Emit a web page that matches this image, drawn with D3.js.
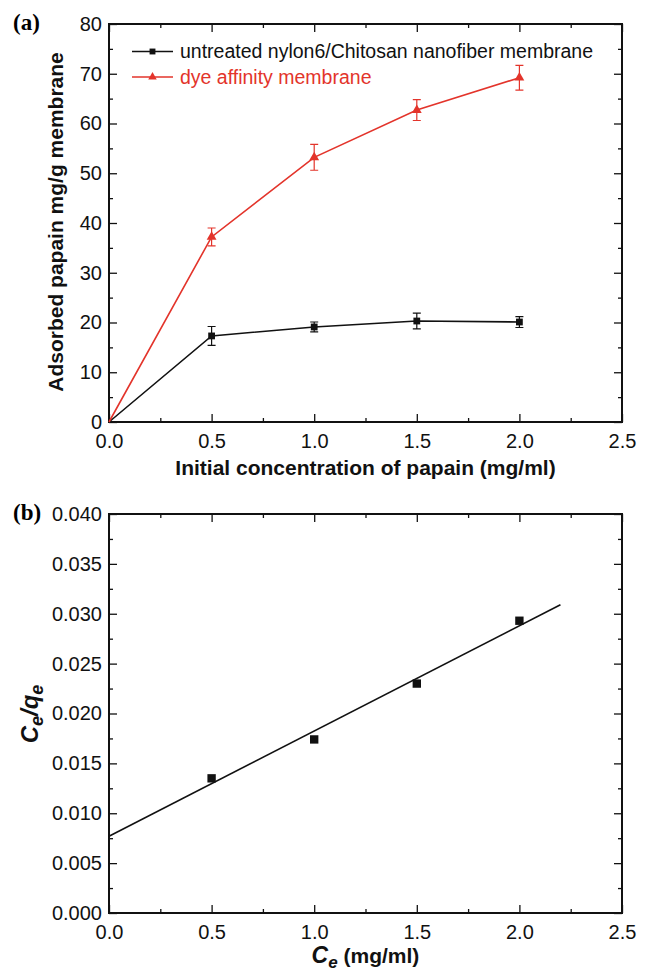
<!DOCTYPE html>
<html>
<head>
<meta charset="utf-8">
<script src="https://cdn.jsdelivr.net/npm/d3@7"></script>
<style>
  body { margin: 0; background: #fff; }
  svg { display: block; font-family: "Liberation Sans", Arial, Helvetica, sans-serif; }
</style>
</head>
<body>
<div id="chart"></div>
<script>
// panel (a) data
const conc = [0, 0.5, 1.0, 1.5, 2.0];
const untreated = [0, 17.3, 19.1, 20.3, 20.1];
const untreatedErr = [0, 1.9, 1.0, 1.6, 1.1];
const dyeAffinity = [0, 37.2, 53.2, 62.7, 69.2];
const dyeErr = [0, 1.8, 2.6, 2.1, 2.5];
const seriesNames = ["untreated nylon6/Chitosan nanofiber membrane", "dye affinity membrane"];

// panel (b) data
const ce = [0.5, 1.0, 1.5, 2.0];
const ceOverQe = [0.0135, 0.0174, 0.0230, 0.0293];
const fitX = [0, 2.2];
const fitY = [0.0077, 0.0309];

const xTicks = [0, 0.5, 1.0, 1.5, 2.0, 2.5];
const yTicksA = [0, 10, 20, 30, 40, 50, 60, 70, 80];
const yTicksB = [0, 0.005, 0.01, 0.015, 0.02, 0.025, 0.03, 0.035, 0.04];

const RED = "#e3342b";
const W = 651, H = 972;
const svg = d3.select("#chart").append("svg").attr("width", W).attr("height", H);

const left = 109, right = 622;

function frame(g, x, y, xMinor, yMinor, yFmt) {
  const [x0, x1] = x.range();
  const [y0, y1] = y.range();
  const major = 8, minor = 4;
  // bottom
  g.append("g").attr("transform", `translate(0,${y0})`)
    .call(d3.axisBottom(x).tickValues(xTicks).tickSizeInner(-major).tickSizeOuter(0).tickPadding(12).tickFormat(d3.format(".1f")))
    .call(a => a.selectAll("text").attr("font-size", 20).attr("fill", "#111"));
  g.append("g").attr("transform", `translate(0,${y0})`)
    .call(d3.axisBottom(x).tickValues(xMinor).tickSizeInner(-minor).tickSizeOuter(0).tickFormat(""));
  // top
  g.append("g").attr("transform", `translate(0,${y1})`)
    .call(d3.axisTop(x).tickValues(xTicks).tickSizeInner(-major).tickSizeOuter(0).tickFormat(""));
  g.append("g").attr("transform", `translate(0,${y1})`)
    .call(d3.axisTop(x).tickValues(xMinor).tickSizeInner(-minor).tickSizeOuter(0).tickFormat(""));
  // left
  g.append("g").attr("transform", `translate(${x0},0)`)
    .call(d3.axisLeft(y).tickValues(y.ticksMajor).tickSizeInner(-major).tickSizeOuter(0).tickPadding(7).tickFormat(yFmt))
    .call(a => a.selectAll("text").attr("font-size", 20).attr("fill", "#111"));
  g.append("g").attr("transform", `translate(${x0},0)`)
    .call(d3.axisLeft(y).tickValues(yMinor).tickSizeInner(-minor).tickSizeOuter(0).tickFormat(""));
  // right
  g.append("g").attr("transform", `translate(${x1},0)`)
    .call(d3.axisRight(y).tickValues(y.ticksMajor).tickSizeInner(-major).tickSizeOuter(0).tickFormat(""));
  g.append("g").attr("transform", `translate(${x1},0)`)
    .call(d3.axisRight(y).tickValues(yMinor).tickSizeInner(-minor).tickSizeOuter(0).tickFormat(""));
  g.selectAll(".domain").remove();
  g.selectAll(".tick line").attr("stroke", "#111").attr("stroke-width", 1.3);
  g.append("rect").attr("x", x0).attr("y", y1).attr("width", x1 - x0).attr("height", y0 - y1)
    .attr("fill", "none").attr("stroke", "#111").attr("stroke-width", 2);
}

const xMinor = [0.25, 0.75, 1.25, 1.75, 2.25];

// ---------- panel (a)
const xa = d3.scaleLinear().domain([0, 2.5]).range([left, right]);
const ya = d3.scaleLinear().domain([0, 80]).range([422, 24]);
ya.ticksMajor = yTicksA;
const ga = svg.append("g");
frame(ga, xa, ya, xMinor, d3.range(5, 80, 10), d3.format("d"));

const lineA = d3.line().x(d => xa(d[0])).y(d => ya(d[1]));
const sets = [
  { vals: untreated, err: untreatedErr, color: "#111", shape: d3.symbolSquare, size: 46 },
  { vals: dyeAffinity, err: dyeErr, color: RED, shape: d3.symbolTriangle, size: 42 }
];
sets.forEach(s => {
  const pts = conc.map((c, i) => [c, s.vals[i], s.err[i]]);
  ga.append("path").attr("d", lineA(pts)).attr("fill", "none").attr("stroke", s.color).attr("stroke-width", 1.6);
  pts.filter(p => p[2] > 0).forEach(p => {
    const cx = xa(p[0]), t = ya(p[1] + p[2]), b = ya(p[1] - p[2]);
    ga.append("path").attr("d", `M${cx},${t}V${b}M${cx - 4},${t}H${cx + 4}M${cx - 4},${b}H${cx + 4}`)
      .attr("stroke", s.color).attr("stroke-width", 1.2).attr("fill", "none");
  });
  ga.selectAll(null).data(pts.filter(p => p[0] > 0)).join("path")
    .attr("transform", p => `translate(${xa(p[0])},${ya(p[1])})`)
    .attr("d", d3.symbol(s.shape, s.size)).attr("fill", s.color);
});

// legend
seriesNames.forEach((name, i) => {
  const s = sets[i], ly = 51.5 + i * 25.5;
  ga.append("line").attr("x1", 132).attr("x2", 173).attr("y1", ly).attr("y2", ly)
    .attr("stroke", s.color).attr("stroke-width", 1.6);
  ga.append("path").attr("transform", `translate(152.5,${ly})`)
    .attr("d", d3.symbol(s.shape, s.size * 0.75)).attr("fill", s.color);
  ga.append("text").attr("x", 180).attr("y", ly).attr("dy", "0.35em")
    .attr("font-size", 19.5).attr("fill", s.color).text(name);
});

ga.append("text").attr("x", 13).attr("y", 22).attr("dy", "0.35em")
  .attr("font-family", "'Liberation Serif', 'Times New Roman', serif").attr("font-weight", "bold")
  .attr("font-size", 23).text("(a)");
ga.append("text").attr("transform", "translate(63,222) rotate(-90)").attr("text-anchor", "middle")
  .attr("font-weight", "bold").attr("font-size", 21).attr("fill", "#111").text("Adsorbed papain mg/g membrane");
ga.append("text").attr("x", (left + right) / 2).attr("y", 475).attr("text-anchor", "middle")
  .attr("font-weight", "bold").attr("font-size", 21).attr("fill", "#111").text("Initial concentration of papain (mg/ml)");

// ---------- panel (b)
const xb = d3.scaleLinear().domain([0, 2.5]).range([left, right]);
const yb = d3.scaleLinear().domain([0, 0.04]).range([913, 514]);
yb.ticksMajor = yTicksB;
const gb = svg.append("g");
frame(gb, xb, yb, xMinor, d3.range(0.0025, 0.04, 0.005), d3.format(".3f"));

gb.append("line").attr("x1", xb(fitX[0])).attr("y1", yb(fitY[0])).attr("x2", xb(fitX[1])).attr("y2", yb(fitY[1]))
  .attr("stroke", "#111").attr("stroke-width", 1.6);
gb.selectAll(null).data(ce.map((c, i) => [c, ceOverQe[i]])).join("path")
  .attr("transform", p => `translate(${xb(p[0])},${yb(p[1])})`)
  .attr("d", d3.symbol(d3.symbolSquare, 70)).attr("fill", "#111");

gb.append("text").attr("x", 13).attr("y", 512).attr("dy", "0.35em")
  .attr("font-family", "'Liberation Serif', 'Times New Roman', serif").attr("font-weight", "bold")
  .attr("font-size", 23).text("(b)");

const yt = gb.append("text").attr("transform", "translate(38,714) rotate(-90)").attr("text-anchor", "middle")
  .attr("font-weight", "bold").attr("font-style", "italic").attr("font-size", 24).attr("fill", "#111");
yt.append("tspan").text("C");
yt.append("tspan").attr("font-size", 18).attr("dy", 5).text("e");
yt.append("tspan").attr("dy", -5).text("/q");
yt.append("tspan").attr("font-size", 18).attr("dy", 5).text("e");

const xt = gb.append("text").attr("x", (left + right) / 2).attr("y", 963).attr("text-anchor", "middle")
  .attr("font-weight", "bold").attr("font-size", 21).attr("fill", "#111");
xt.append("tspan").attr("font-style", "italic").attr("font-size", 23).text("C");
xt.append("tspan").attr("font-style", "italic").attr("font-size", 17).attr("dy", 5).text("e");
xt.append("tspan").attr("dy", -5).text(" (mg/ml)");
</script>
</body>
</html>
